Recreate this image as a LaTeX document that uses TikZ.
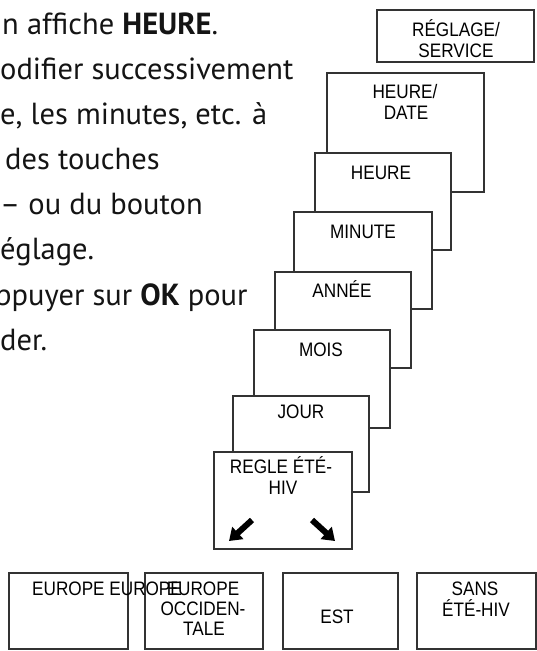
\documentclass[tikz,border=0pt]{standalone}
\usepackage{fontspec}
\usetikzlibrary{arrows.meta}
\newfontfamily\diagfont[FakeStretch=0.88]{Liberation Sans}
\newfontfamily\bodyfont{PT Sans}
\definecolor{ink}{HTML}{333333}
\definecolor{txt}{HTML}{141414}
\begin{document}
\begin{tikzpicture}[x=1pt,y=-1pt,
  panel/.style={draw=ink, line width=1.6pt, fill=white, rectangle, inner sep=0pt, outer sep=0pt, anchor=north west},
  lbl/.style={font=\diagfont\fontsize{19.5}{22}\selectfont, text=black, inner sep=0pt, anchor=base},
  bodytext/.style={font=\bodyfont\fontsize{30.5}{36}\selectfont, text=txt, inner sep=0pt, anchor=base west},
  bigarrow/.style={line width=6pt, black, -{Triangle[width=16pt,length=12pt]}}]
\useasboundingbox (0,0) rectangle (537,651);
\clip (0,0) rectangle (537,651);

% body text (cut at the left edge)
\node[bodytext] (l1) at (2,34) {n affiche \textbf{HEURE}.};
\node[bodytext] (l2) at (0,79) {odifier successivement};
\node[bodytext] (l3) at (0,124) {e, les minutes, etc. à};
\node[bodytext] (l4) at (5,169) {des touches};
\node[bodytext] (l5) at (0,214) {– ou du bouton};
\node[bodytext] (l6) at (0,259) {églage.};
\node[bodytext] (l7) at (-5,305) {ppuyer sur \textbf{OK} pour};
\node[bodytext] (l8) at (0,350) {der.};

% stacked panels
\node[panel, minimum width=157pt, minimum height=52pt] (reg) at (377,10) {};
\node[lbl] (reg1) at (456,36) {RÉGLAGE/};
\node[lbl] (reg2) at (456,57) {SERVICE};

\node[panel, minimum width=157pt, minimum height=119pt] (hd) at (327,73) {};
\node[lbl] (hd1) at (405,98) {HEURE/};
\node[lbl] (hd2) at (406,119) {DATE};

\node[panel, minimum width=136pt, minimum height=97pt] (heure) at (315,153) {};
\node[lbl] (heuret) at (381,179) {HEURE};

\node[panel, minimum width=138pt, minimum height=97pt] (minute) at (294,212) {};
\node[lbl] (minutet) at (363,238) {MINUTE};

\node[panel, minimum width=136pt, minimum height=96pt] (annee) at (275,272) {};
\node[lbl] (anneet) at (342,297) {ANNÉE};

\node[panel, minimum width=136pt, minimum height=98pt] (mois) at (254,330) {};
\node[lbl] (moist) at (321,356) {MOIS};

\node[panel, minimum width=136pt, minimum height=96pt] (jour) at (233,396) {};
\node[lbl] (jourt) at (301,418) {JOUR};

\node[panel, minimum width=138pt, minimum height=97pt] (regle) at (214,452) {};
\node[lbl] (regle1) at (281,473) {REGLE ÉTÉ-};
\node[lbl] (regle2) at (283,494) {HIV};

% arrows inside the last panel
\coordinate (la0) at (252,520);
\coordinate (la1) at (229,541);
\coordinate (ra0) at (312,520);
\coordinate (ra1) at (335,541);
\draw[bigarrow] (la0) -- (la1);
\draw[bigarrow] (ra0) -- (ra1);

% bottom choices
\node[panel, minimum width=119pt, minimum height=76pt] (b1) at (9,573) {};
\node[panel, minimum width=118pt, minimum height=76pt] (b2) at (145,573) {};
\node[panel, minimum width=115pt, minimum height=76pt] (b3) at (283,573) {};
\node[panel, minimum width=119pt, minimum height=76pt] (b4) at (417,573) {};

\node[lbl, anchor=base west] (b1t) at (32,595) {EUROPE EUROPE};
\node[lbl] (b2a) at (203,595) {EUROPE};
\node[lbl] (b2b) at (203,615) {OCCIDEN-};
\node[lbl] (b2c) at (204,635) {TALE};
\node[lbl] (b3t) at (337,623) {EST};
\node[lbl] (b4a) at (475,595) {SANS};
\node[lbl] (b4b) at (476,616) {ÉTÉ-HIV};
\end{tikzpicture}
\end{document}
